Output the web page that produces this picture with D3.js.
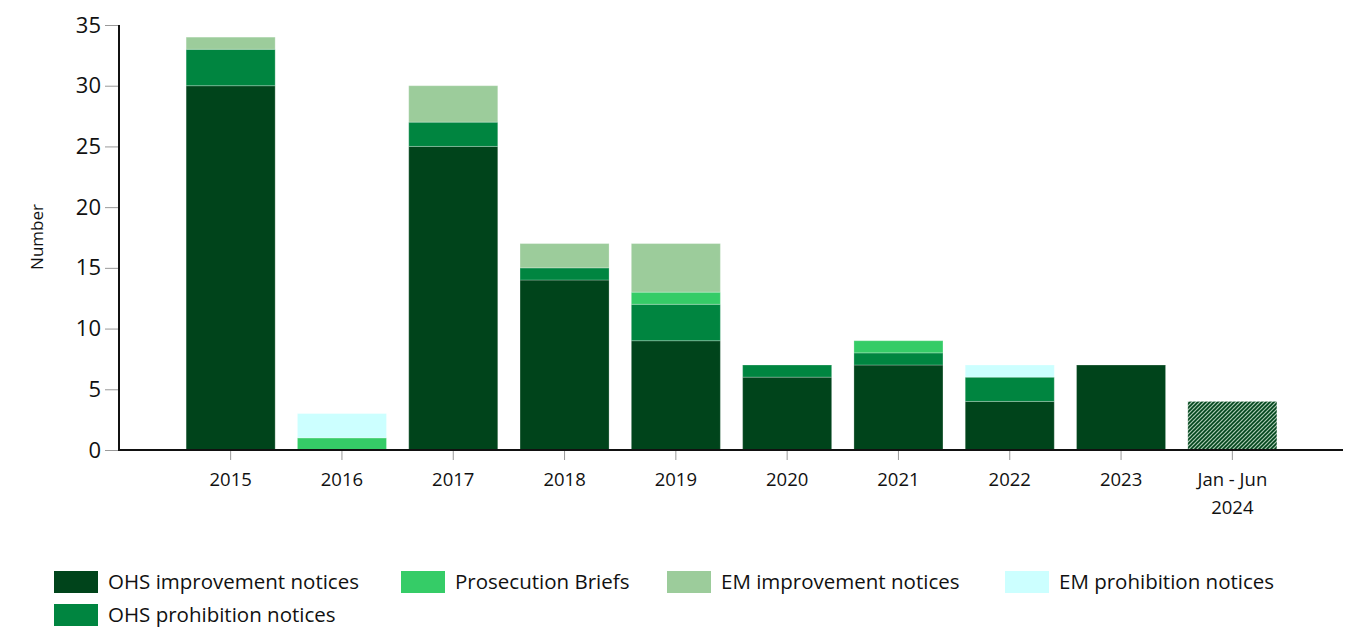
<!DOCTYPE html>
<html>
<meta charset="utf-8">
<head>
<script src="https://d3js.org/d3.v7.min.js"></script>
<style>
  body { margin: 0; background: #fff; font-family: "Open Sans", "Noto Sans", sans-serif; }
</style>
</head>
<body>
<div id="chart"></div>
<script>
// categories and series values
var years = ["2015", "2016", "2017", "2018", "2019", "2020", "2021", "2022", "2023", "Jan - Jun 2024"];
var ohsImprovement = [30, 0, 25, 14, 9, 6, 7, 4, 7, 4];
var ohsProhibition = [3, 0, 2, 1, 3, 1, 1, 2, 0, 0];
var prosecution    = [0, 1, 0, 0, 1, 0, 1, 0, 0, 0];
var emImprovement  = [1, 0, 3, 2, 4, 0, 0, 0, 0, 0];
var emProhibition  = [0, 2, 0, 0, 0, 0, 0, 1, 0, 0];
var yTicks = [0, 5, 10, 15, 20, 25, 30, 35];

var seriesNames = ["OHS improvement notices", "OHS prohibition notices", "Prosecution Briefs",
                   "EM improvement notices", "EM prohibition notices"];
var seriesValues = [ohsImprovement, ohsProhibition, prosecution, emImprovement, emProhibition];
var colors = ["#00441b", "#008540", "#35cc67", "#9ccc9b", "#ccffff"];

var width = 1358, height = 632;
var svg = d3.select("#chart").append("svg")
    .attr("width", width).attr("height", height);

// hatch for the part-year bar
var defs = svg.append("defs");
var pat = defs.append("pattern")
    .attr("id", "hatch").attr("patternUnits", "userSpaceOnUse")
    .attr("width", 4).attr("height", 4);
pat.append("rect").attr("width", 4).attr("height", 4).attr("fill", "#a9c8b2");
pat.append("path").attr("d", "M-1,1 l2,-2 M0,4 l4,-4 M3,5 l2,-2")
    .attr("stroke", "#00441b").attr("stroke-width", 1.6);

var x0 = 119, x1 = 1343, y0 = 450, yTop = 25;

var x = d3.scaleBand().domain(years).range([175, 1288])
    .paddingInner(0.2).paddingOuter(0.1);
var y = d3.scaleLinear().domain([0, 35]).range([y0, yTop]);

// build stacked table
var table = years.map(function(yr, i) {
  var row = {year: yr, idx: i};
  seriesNames.forEach(function(s, j) { row[s] = seriesValues[j][i]; });
  return row;
});
var stacked = d3.stack().keys(seriesNames)(table);

var g = svg.append("g");
g.selectAll("g.layer")
  .data(stacked)
  .enter().append("g")
  .attr("class", "layer")
  .each(function(layer, j) {
    d3.select(this).selectAll("rect")
      .data(layer.filter(function(d) { return d[1] > d[0]; }))
      .enter().append("rect")
      .attr("x", function(d) { return x(d.data.year); })
      .attr("y", function(d) { return y(d[1]); })
      .attr("width", x.bandwidth())
      .attr("height", function(d) { return y(d[0]) - y(d[1]); })
      .attr("fill", function(d) {
        return d.data.idx === years.length - 1 ? "url(#hatch)" : colors[j];
      })
      .attr("stroke", "rgba(255,255,255,0.25)")
      .attr("stroke-width", 1);
  });

// y axis
var yAxis = svg.append("g").attr("transform", "translate(" + x0 + ",0)")
  .call(d3.axisLeft(y).tickValues(yTicks).tickSize(14).tickPadding(4));
yAxis.select(".domain").remove();
yAxis.selectAll(".tick line").attr("stroke", "#999");
yAxis.selectAll(".tick text").attr("font-size", 22)
  .attr("font-family", "'Open Sans', sans-serif").attr("fill", "#111");
svg.append("line").attr("x1", x0).attr("x2", x0).attr("y1", yTop).attr("y2", y0)
  .attr("stroke", "#111").attr("stroke-width", 2);

// x axis
var xAxis = svg.append("g").attr("transform", "translate(0," + y0 + ")")
  .call(d3.axisBottom(x).tickSize(10).tickPadding(10).tickFormat(""));
xAxis.select(".domain").remove();
xAxis.selectAll(".tick line").attr("stroke", "#999");
svg.append("line").attr("x1", x0 - 1).attr("x2", x1).attr("y1", y0).attr("y2", y0)
  .attr("stroke", "#111").attr("stroke-width", 2);
xAxis.selectAll(".tick").each(function(d) {
  var t = d3.select(this).append("text")
    .attr("fill", "#111").attr("font-size", 18.5)
    .attr("font-family", "'Open Sans', sans-serif")
    .attr("text-anchor", "middle");
  var parts = d === "Jan - Jun 2024" ? ["Jan - Jun", "2024"] : [d];
  parts.forEach(function(p, k) {
    t.append("tspan").attr("x", 0).attr("y", 36 + k * 28).text(p);
  });
});

// axis title
svg.append("text")
  .attr("transform", "translate(43,237) rotate(-90)")
  .attr("text-anchor", "middle")
  .attr("font-size", 17)
  .attr("font-family", "'Open Sans', sans-serif")
  .attr("fill", "#111")
  .text("Number");

// legend
var legendItems = [
  {name: "OHS improvement notices", color: colors[0], x: 54, y: 571},
  {name: "Prosecution Briefs", color: colors[2], x: 401, y: 571},
  {name: "EM improvement notices", color: colors[3], x: 667, y: 571},
  {name: "EM prohibition notices", color: colors[4], x: 1005, y: 571},
  {name: "OHS prohibition notices", color: colors[1], x: 54, y: 604}
];
var lg = svg.append("g").selectAll("g")
  .data(legendItems).enter().append("g")
  .attr("transform", function(d) { return "translate(" + d.x + "," + d.y + ")"; });
lg.append("rect").attr("width", 44).attr("height", 22)
  .attr("fill", function(d) { return d.color; });
lg.append("text").attr("x", 54).attr("y", 18)
  .attr("font-size", 20.5)
  .attr("font-family", "'Open Sans', sans-serif")
  .attr("fill", "#111")
  .text(function(d) { return d.name; });
</script>
</body>
</html>
